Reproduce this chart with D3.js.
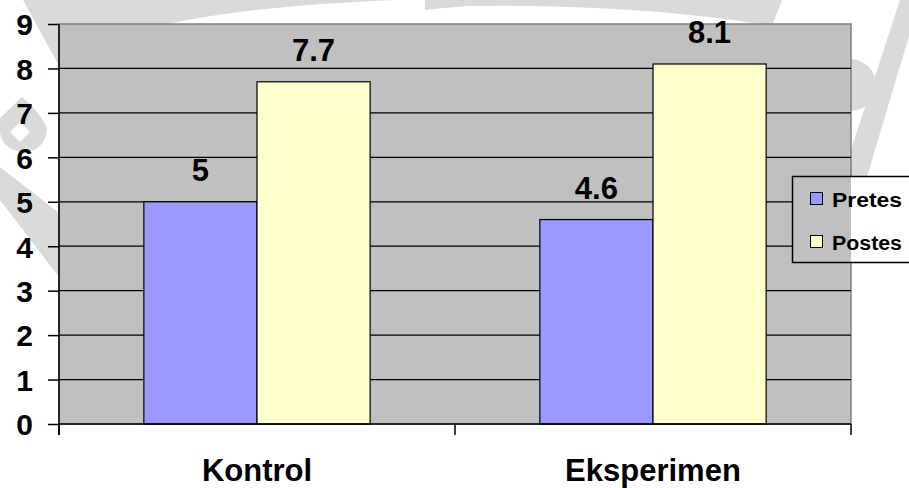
<!DOCTYPE html>
<html>
<head>
<meta charset="utf-8">
<script src="https://cdn.jsdelivr.net/npm/d3@7"></script>
<style>
  html, body { margin: 0; padding: 0; background: #fff; }
  svg { display: block; }
  text { font-family: "Liberation Sans", Arial, sans-serif; font-weight: bold; fill: #000; }
</style>
</head>
<body>
<svg id="chart" width="909" height="488"></svg>
<script>
// Mean scores per group, before (Pretes) and after (Postes)
const categories = ["Kontrol", "Eksperimen"];
const seriesNames = ["Pretes", "Postes"];
const pretes = [5, 4.6];
const postes = [7.7, 8.1];
const yTicks = [0, 1, 2, 3, 4, 5, 6, 7, 8, 9];
const seriesColors = ["#9999ff", "#ffffcc"];

const svg = d3.select("#chart");
const plot = { left: 59, right: 851, top: 24, bottom: 424 };

const y = d3.scaleLinear().domain([0, 9]).range([plot.bottom, plot.top]);
const x = d3.scaleBand().domain(categories).range([plot.left, plot.right]).paddingInner(0).paddingOuter(0);
const xs = d3.scaleBand().domain(seriesNames).range([0, x.bandwidth()]).paddingInner(0).paddingOuter(0.75);
const color = d3.scaleOrdinal().domain(seriesNames).range(seriesColors);

// faint background emblem
const wm = svg.append("g").attr("fill", "#dadada");
wm.append("path").attr("d", "M23,0 L396,0 Q240,6 150,28 Q95,42 58,64 Z");
wm.append("path").attr("d", "M425,0 L782,0 L772,26 Q640,4 470,6 Q440,8 425,10 Z");
wm.append("path").attr("d", "M900,0 L909,0 L909,36 L866,180 L851,180 L851,150 Z");
wm.append("circle").attr("cx", 850).attr("cy", 85).attr("r", 26);
wm.append("path").attr("d", "M22,97 Q40,112 47,128 Q46,150 24,152 Q2,150 0,132 L0,118 Z");
wm.append("path").attr("d", "M0,167 L59,213 L59,277 L0,200 Z");
svg.append("path").attr("fill", "#fff").attr("d", "M20,122 L30,132 L20,142 L10,132 Z");

// plot area background
svg.append("rect")
  .attr("x", plot.left).attr("y", plot.top)
  .attr("width", plot.right - plot.left).attr("height", plot.bottom - plot.top)
  .attr("fill", "#c0c0c0").attr("stroke", "#808080").attr("stroke-width", 1.5);

// horizontal gridlines
svg.append("g").selectAll("line")
  .data(yTicks.filter(d => d > 0 && d < 9))
  .join("line")
  .attr("x1", plot.left).attr("x2", plot.right)
  .attr("y1", d => y(d)).attr("y2", d => y(d))
  .attr("stroke", "#000").attr("stroke-width", 1.3);

// bars
const rows = categories.map((c, i) => ({ cat: c, values: [
  { name: "Pretes", value: pretes[i] },
  { name: "Postes", value: postes[i] }
]}));

const groups = svg.append("g").selectAll("g")
  .data(rows).join("g")
  .attr("transform", d => `translate(${x(d.cat)},0)`);

groups.selectAll("rect")
  .data(d => d.values).join("rect")
  .attr("x", d => xs(d.name))
  .attr("y", d => y(d.value))
  .attr("width", xs.bandwidth())
  .attr("height", d => y(0) - y(d.value))
  .attr("fill", d => color(d.name))
  .attr("stroke", "#000").attr("stroke-width", 1.2);

groups.selectAll("text")
  .data(d => d.values).join("text")
  .attr("x", d => xs(d.name) + xs.bandwidth() / 2)
  .attr("y", d => y(d.value) - 21)
  .attr("text-anchor", "middle")
  .attr("font-size", 31)
  .text(d => d3.format("")(d.value));

// value axis
const yAxis = svg.append("g")
  .attr("transform", `translate(${plot.left},0)`)
  .call(d3.axisLeft(y).tickValues(yTicks).tickSize(11).tickPadding(15).tickFormat(d3.format("d")));
yAxis.select(".domain").attr("stroke", "#000").attr("stroke-width", 1.5)
  .attr("d", `M0,${plot.top}V${plot.bottom + 11}`);
yAxis.selectAll(".tick line").attr("stroke", "#000").attr("stroke-width", 1.5);
yAxis.selectAll(".tick text")
  .attr("font-size", 30).attr("font-family", "Liberation Sans, Arial, sans-serif")
  .attr("font-weight", "bold").attr("dy", "0.36em").attr("fill", "#000");

// category axis: baseline and ticks between categories
const catAxis = svg.append("g");
catAxis.append("line")
  .attr("x1", plot.left).attr("x2", plot.right)
  .attr("y1", y(0)).attr("y2", y(0))
  .attr("stroke", "#000").attr("stroke-width", 1.5);
const boundaries = categories.map(c => x(c)).concat([x(categories[categories.length - 1]) + x.bandwidth()]);
catAxis.selectAll(".ctick").data(boundaries).join("line")
  .attr("class", "ctick")
  .attr("x1", d => d).attr("x2", d => d)
  .attr("y1", y(0)).attr("y2", y(0) + 11)
  .attr("stroke", "#000").attr("stroke-width", 1.5);

catAxis.selectAll(".clabel").data(categories).join("text")
  .attr("class", "clabel")
  .attr("x", d => x(d) + x.bandwidth() / 2)
  .attr("y", 481)
  .attr("text-anchor", "middle")
  .attr("font-size", 31)
  .text(d => d);

// legend
const legend = svg.append("g");
legend.append("rect")
  .attr("x", 792.5).attr("y", 176.5).attr("width", 140).attr("height", 86)
  .attr("fill", "#fff");
legend.append("rect")
  .attr("x", 792.5).attr("y", 176.5).attr("width", plot.right - 792.5).attr("height", 86)
  .attr("fill", "#c0c0c0");
legend.append("rect")
  .attr("x", 792.5).attr("y", 176.5).attr("width", 140).attr("height", 86)
  .attr("fill", "none").attr("stroke", "#000").attr("stroke-width", 1.5);

const legendItems = legend.selectAll(".item").data(seriesNames).join("g")
  .attr("class", "item")
  .attr("transform", (d, i) => `translate(0,${i * 43})`);
legendItems.append("rect")
  .attr("x", 810.5).attr("y", 192.5).attr("width", 12).attr("height", 12)
  .attr("fill", d => color(d)).attr("stroke", "#000").attr("stroke-width", 1);
legendItems.append("text")
  .attr("x", 832).attr("y", 206.5)
  .attr("font-size", 20)
  .attr("textLength", 70)
  .attr("lengthAdjust", "spacingAndGlyphs")
  .text(d => d);
</script>
</body>
</html>
